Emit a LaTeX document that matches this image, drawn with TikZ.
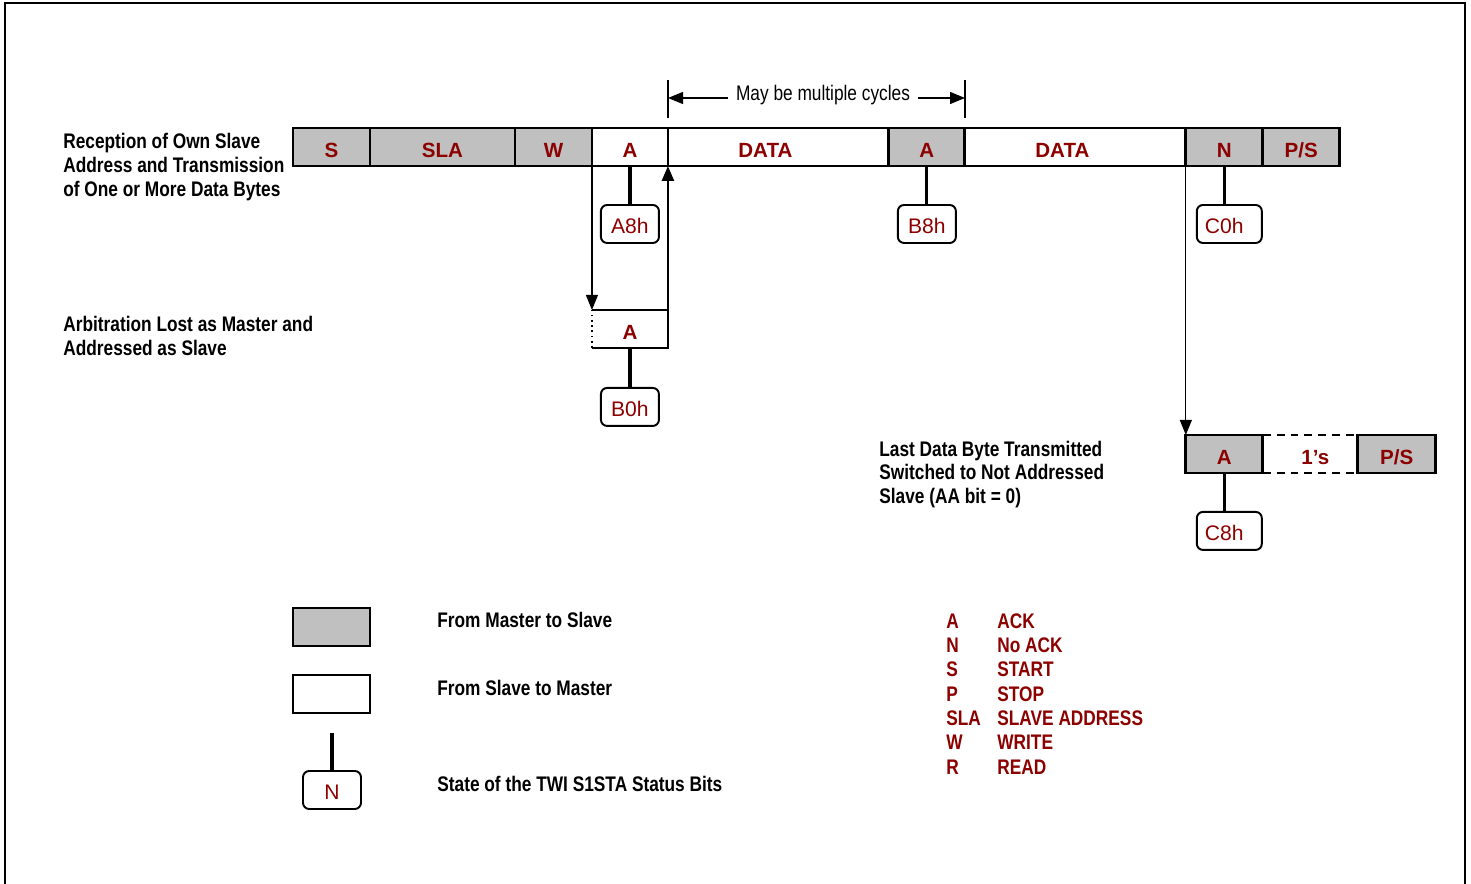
\documentclass[tikz,border=0pt]{standalone}
\usepackage{fontspec}
\setmainfont{Liberation Sans}
\newfontfamily\narrowfont[FakeStretch=0.82]{Liberation Sans}
\usetikzlibrary{arrows.meta,positioning}
\definecolor{twired}{RGB}{140,0,0}
\definecolor{cellgray}{RGB}{192,192,192}
\newcommand{\cellfont}{\fontsize{11.7}{13}\selectfont\bfseries}
\newcommand{\statfont}{\fontsize{12}{14}\selectfont}
\newcommand{\sidefont}{\narrowfont\fontsize{12}{13.6}\selectfont\bfseries}
\newcommand{\cycfont}{\narrowfont\fontsize{12}{13.6}\selectfont}
\tikzset{
  cell/.style={draw, line width=1.6pt, minimum height=0.76cm, inner sep=0pt, outer sep=0pt,
    font=\cellfont, text=twired, text height=11.8pt, text depth=0pt},
  mcell/.style={cell, fill=cellgray},
  scell/.style={cell, fill=white},
  statbox/.style={draw, line width=1.1pt, rounded corners=3.5pt, minimum width=1.16cm,
    minimum height=0.76cm, inner sep=0pt, outer sep=0pt, font=\statfont, text=twired,
    text height=10.6pt, text depth=0pt},
  stem/.style={line width=1.8pt},
  flow/.style={-{Triangle[length=3mm,width=2.4mm]}, line width=0.7pt},
  tick/.style={line width=1.4pt},
  side/.style={font=\sidefont, align=left, inner sep=0pt, anchor=west},
  abbr/.style={font=\sidefont, text=twired, inner sep=0pt, anchor=west},
  frame/.style={line width=1.3pt},
}
\begin{document}
\begin{tikzpicture}[x=0.02cm, y=-0.02cm]
\useasboundingbox (0,0) rectangle (1471,884);
\draw[frame] (5,884) -- (5,3) -- (1465,3) -- (1465,884);

% own slave address, data bytes
\node[mcell, minimum width=1.54cm, anchor=west] (S) at (293,147) {S};
\node[mcell, minimum width=2.90cm, right=0pt of S] (SLA) {SLA};
\node[mcell, minimum width=1.54cm, right=0pt of SLA] (W) {W};
\node[scell, minimum width=1.52cm, right=0pt of W] (A1) {A};
\node[scell, minimum width=4.42cm, right=0pt of A1] (D1) {DATA\hspace*{0.52cm}};
\node[mcell, minimum width=1.52cm, right=0pt of D1] (A2) {A};
\node[scell, minimum width=4.42cm, right=0pt of A2] (D2) {DATA\hspace*{0.52cm}};
\node[mcell, minimum width=1.54cm, right=0pt of D2] (N) {N};
\node[mcell, minimum width=1.54cm, right=0pt of N] (PS) {P/S};

\node[statbox, below=0.78cm of A1] (sA8) {A8h};
\node[statbox, below=0.78cm of A2] (sB8) {B8h};
\node[statbox, minimum width=1.3cm, below=0.78cm of N, xshift=0.1cm] (sC0) {C0h\hspace*{0.2cm}};
\draw[stem] (A1) -- (sA8);
\draw[stem] (A2) -- (sB8);
\draw[stem] (N) -- (N |- sC0.north);

% multiple cycles
\coordinate (cycLt) at (668,80);
\coordinate (cycLb) at (668,118);
\coordinate (cycRt) at (965,80);
\coordinate (cycRb) at (965,118);
\coordinate (cycL) at (668,98);
\coordinate (cycR) at (965,98);
\draw[tick] (cycLt) -- (cycLb);
\draw[tick] (cycRt) -- (cycRb);
\node[font=\cycfont, inner sep=4.5pt, anchor=base] (cyc) at (823,101) {May be multiple cycles};
\draw[flow] (cyc.west |- cycL) -- (cycL);
\draw[flow] (cyc.east |- cycR) -- (cycR);

% arbitration lost
\node[scell, draw=none, minimum width=1.52cm, below=2.88cm of A1] (Aarb) {A};
\draw[line width=1.6pt] (Aarb.north west) -- (Aarb.north east) -- (Aarb.south east) -- (Aarb.south west);
\draw[dotted, line width=1pt] (Aarb.south west) -- (Aarb.north west);
\node[statbox, below=0.8cm of Aarb] (sB0) {B0h};
\draw[stem] (Aarb) -- (sB0);
\draw[flow, line width=0.7pt] (A1.south west) -- (Aarb.north west);
\draw[flow, line width=1.5pt] (Aarb.south east) -- (A1.south east);

% last data byte
\node[mcell, minimum width=1.54cm, below=5.38cm of N] (Alast) {A};
\node[cell, draw=none, minimum width=1.9cm, right=0pt of Alast] (ones) {\hspace*{0.2cm}1’s};
\node[mcell, minimum width=1.56cm, right=0pt of ones] (PSlast) {P/S};
\draw[dashed, dash pattern=on 4.5pt off 3.4pt, line width=1.6pt] (ones.north west) -- (ones.north east);
\draw[dashed, dash pattern=on 4.5pt off 3.4pt, line width=1.6pt] (ones.south west) -- (ones.south east);
\draw[flow, line width=0.7pt] (N.south west) -- (Alast.north west);
\node[statbox, minimum width=1.3cm, below=0.78cm of Alast, xshift=0.1cm] (sC8) {C8h\hspace*{0.2cm}};
\draw[stem] (Alast) -- (Alast |- sC8.north);

% row labels
\node[side] (lblown) at (63,167) {Reception of Own Slave\\Address and Transmission\\of One or More Data Bytes};
\node[side] (lblarb) at (63,336) {Arbitration Lost as Master and\\Addressed as Slave};
\node[side] (lbllast) at (879,474.5) {Last Data Byte Transmitted\\Switched to Not Addressed\\Slave (AA bit = 0)};

% legend
\node[mcell, minimum width=1.54cm] (keyM) at (331.5,627) {};
\node[scell, minimum width=1.54cm] (keyS) at (331.5,694) {};
\coordinate (keystem) at (332,733);
\node[statbox] (keyN) at (332,790) {N};
\draw[stem] (keystem) -- (keyN);
\node[side] (txtM) at (437,620) {From Master to Slave};
\node[side] (txtS) at (437,688) {From Slave to Master};
\node[side] (txtN) at (437,784) {State of the TWI S1STA Status Bits};

\foreach \ab/\full [count=\i from 0] in {A/ACK, N/No ACK, S/START, P/STOP, SLA/SLAVE ADDRESS, W/WRITE, R/READ}{
  \node[abbr] (ab\i) at (946,621+24.3*\i) {\ab};
  \node[abbr] (full\i) at (997,621+24.3*\i) {\full};
}
\end{tikzpicture}
\end{document}
